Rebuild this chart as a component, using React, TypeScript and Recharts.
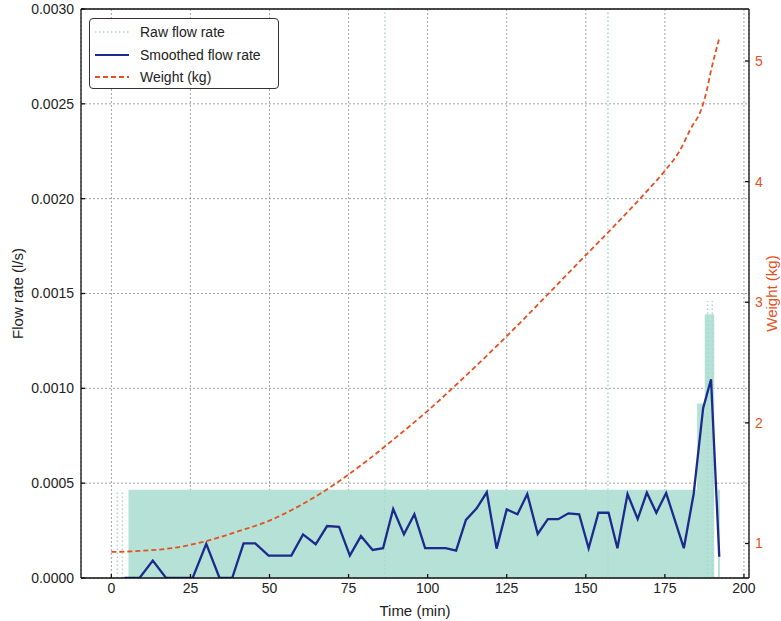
import { Area, CartesianGrid, ComposedChart, Line, ReferenceLine, XAxis, YAxis } from 'recharts';

// smoothed flow rate (l/s) against time (min)
const smoothTime = [
  4.1, 8.9, 13.1, 17.3, 25.7, 30, 34.2, 38.2, 41.8, 45.5, 49.7, 56.9, 60.6, 64.6, 68.2, 72, 75.4,
  78.9, 82.6, 85.9, 89.1, 92.5, 95.8, 99.2, 105.7, 109, 112.1, 115.5, 118.7, 121.8, 125, 128.4,
  131.5, 134.8, 138, 141.3, 144.5, 147.9, 150.9, 154, 157.2, 160, 163.2, 166.4, 169.3, 172.3,
  175.4, 181, 184.1, 187.1, 189.6, 192.2,
];
const smoothFlow = [
  0, 0, 0.000092, 0, 0, 0.00018, 0, 0, 0.000183, 0.000183, 0.000118, 0.000118, 0.00023, 0.000178,
  0.000274, 0.00027, 0.000118, 0.000221, 0.000148, 0.000157, 0.000364, 0.00023, 0.000336, 0.000157,
  0.000157, 0.000144, 0.000306, 0.000367, 0.000452, 0.000155, 0.000362, 0.000336, 0.000443,
  0.000232, 0.00031, 0.00031, 0.000341, 0.000336, 0.000157, 0.000344, 0.000344, 0.000157, 0.000443,
  0.000311, 0.00045, 0.000344, 0.000448, 0.000157, 0.000443, 0.000895, 0.001048, 0.000112,
];

// weight (kg)
const weightTime = [
  0, 10, 20, 30, 40, 50, 60, 70, 80, 90, 100, 110, 120, 130, 140, 150, 160, 170, 175, 180, 183,
  186.8, 188.2, 189.5, 190.8, 192.2,
];
const weightKg = [
  0.93, 0.94, 0.965, 1.02, 1.1, 1.19, 1.32, 1.48, 1.67, 1.88, 2.1, 2.34, 2.59, 2.85, 3.12, 3.39,
  3.66, 3.94, 4.09, 4.27, 4.43, 4.62, 4.75, 4.91, 5.05, 5.19,
];

// raw flow rate, upper envelope of the dense raw signal (step)
const rawTime = [5.4, 185.2, 187.6, 190.6, 191.8, 192.4];
const rawFlow = [0.000465, 0.00092, 0.00139, 0, 0.000465, 0];

// isolated raw spikes
const spikeTime = [1.9, 3.5, 86.5, 157, 188.5, 190];
const spikeTop = [0.00046, 0.00046, 0.003, 0.003, 0.00146, 0.00146];

const xTicks = [0, 25, 50, 75, 100, 125, 150, 175, 200];
const flowTicks = [0, 0.0005, 0.001, 0.0015, 0.002, 0.0025, 0.003];
const weightTicks = [1, 2, 3, 4, 5];

const smoothData = smoothTime.map((t, i) => ({ t, smooth: smoothFlow[i] }));
const weightData = weightTime.map((t, i) => ({ t, weight: weightKg[i] }));
const rawData = rawTime.map((t, i) => ({ t, raw: rawFlow[i] }));

const FONT = '"Liberation Sans", Arial, sans-serif';
const RAW = '#b5e1d7';
const NAVY = '#1c2a8c';
const ORANGE = '#e4501f';

function LegendBox() {
  const rows = [
    { label: 'Raw flow rate', color: '#a6dacd', dash: '1.5 2.5', width: 1.5 },
    { label: 'Smoothed flow rate', color: NAVY, dash: undefined, width: 2.2 },
    { label: 'Weight (kg)', color: ORANGE, dash: '5 3', width: 1.8 },
  ];
  return (
    <div
      style={{
        position: 'absolute',
        left: 89,
        top: 18,
        width: 190,
        height: 71,
        border: '1px solid #333',
        borderRadius: 4,
        background: '#fff',
        fontFamily: FONT,
        fontSize: 14,
        color: '#222',
        boxSizing: 'border-box',
      }}
    >
      {rows.map((r, i) => (
        <div key={r.label} style={{ position: 'absolute', left: 5, top: 4 + i * 22.5, height: 18, display: 'flex', alignItems: 'center' }}>
          <svg width={34} height={10}>
            <line x1={0} y1={5} x2={34} y2={5} stroke={r.color} strokeWidth={r.width} strokeDasharray={r.dash} />
          </svg>
          <span style={{ marginLeft: 11 }}>{r.label}</span>
        </div>
      ))}
    </div>
  );
}

export default function App() {
  const tickStyle = { fontSize: 14, fill: '#222', fontFamily: FONT };
  return (
    <div style={{ position: 'absolute', left: 0, top: 0, width: 781, height: 621, background: '#fff' }}>
      <ComposedChart width={781} height={621} margin={{ top: 9, right: 0, left: 0, bottom: 0 }}>
        <CartesianGrid yAxisId="left" stroke="#8a8a8a" strokeDasharray="2 2" strokeWidth={0.8} />
        <XAxis
          type="number"
          dataKey="t"
          domain={[-9.6, 201.6]}
          ticks={xTicks}
          allowDataOverflow
          height={43}
          tickSize={-4}
          tickMargin={9}
          tick={tickStyle}
          stroke="#111"
          strokeWidth={1.3}
          label={{ value: 'Time (min)', position: 'insideBottom', offset: 5, style: { fontSize: 15, fill: '#222', fontFamily: FONT } }}
        />
        <YAxis
          yAxisId="left"
          type="number"
          domain={[0, 0.003]}
          ticks={flowTicks}
          allowDataOverflow
          width={81}
          tickSize={-4}
          tickMargin={11}
          tick={tickStyle}
          tickFormatter={(v: number) => v.toFixed(4)}
          stroke="#111"
          strokeWidth={1.3}
          label={{ value: 'Flow rate (l/s)', angle: -90, position: 'insideLeft', offset: 18, style: { textAnchor: 'middle', fontSize: 15, fill: '#222', fontFamily: FONT } }}
        />
        <YAxis
          yAxisId="right"
          orientation="right"
          type="number"
          domain={[0.714, 5.431]}
          ticks={weightTicks}
          allowDataOverflow
          width={32}
          tickSize={-4}
          tickMargin={10}
          tick={{ ...tickStyle, fill: ORANGE }}
          stroke="#111"
          strokeWidth={1.3}
          label={{ value: 'Weight (kg)', angle: -90, position: 'insideRight', offset: 9, style: { textAnchor: 'middle', fontSize: 15, fill: ORANGE, fontFamily: FONT } }}
        />
        <Area
          yAxisId="left"
          data={rawData}
          dataKey="raw"
          type="stepAfter"
          fill={RAW}
          fillOpacity={1}
          stroke="none"
          isAnimationActive={false}
        />
        {spikeTime.map((t, i) => (
          <ReferenceLine
            key={t}
            yAxisId="left"
            segment={[{ x: t, y: 0 }, { x: t, y: spikeTop[i] }]}
            stroke="#a6dacd"
            strokeWidth={1.5}
            strokeDasharray="1.5 2.5"
          />
        ))}
        <Line
          yAxisId="right"
          data={weightData}
          dataKey="weight"
          type="monotone"
          stroke={ORANGE}
          strokeWidth={1.8}
          strokeDasharray="5 3"
          dot={false}
          isAnimationActive={false}
        />
        <Line
          yAxisId="left"
          data={smoothData}
          dataKey="smooth"
          type="linear"
          stroke={NAVY}
          strokeWidth={2.3}
          dot={false}
          isAnimationActive={false}
        />
        <ReferenceLine yAxisId="left" y={0.003} stroke="#111" strokeWidth={1.3} />
      </ComposedChart>
      <LegendBox />
    </div>
  );
}
